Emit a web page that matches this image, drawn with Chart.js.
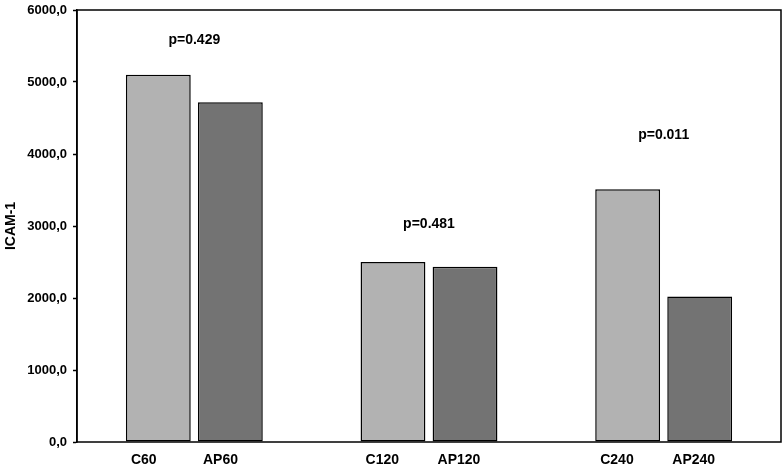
<!DOCTYPE html>
<html>
<head>
<meta charset="utf-8">
<script src="https://cdn.jsdelivr.net/npm/chart.js@4.4.0/dist/chart.umd.min.js"></script>
<style>
    html, body { margin: 0; padding: 0; background: #fff; }
    #wrap { width: 784px; height: 470px; }
</style>
</head>
<body>
<div id="wrap"><canvas id="chart"></canvas></div>
<script>
// Groups (time points) and the two bar series
const groups = ['60', '120', '240'];
const controlLabels = ['C60', 'C120', 'C240'];
const apLabels = ['AP60', 'AP120', 'AP240'];
const controlValues = [5100, 2500, 3510];
const apValues = [4720, 2435, 2020];

// p-value notes above each group, and the height they sit at (data units)
const pLabels = ['p=0.429', 'p=0.481', 'p=0.011'];
const pLabelY = [5580, 3030, 4260];

// Y axis ticks
const yTicks = [0, 1000, 2000, 3000, 4000, 5000, 6000];

const fontFamily = "'Liberation Sans', Arial, Helvetica, sans-serif";

// Frame around the plot area
const framePlugin = {
    id: 'frame',
    afterDatasetsDraw(chart) {
        const { ctx, chartArea } = chart;
        ctx.save();
        ctx.strokeStyle = '#000';
        ctx.lineWidth = 1.5;
        ctx.strokeRect(chartArea.left, chartArea.top,
            chartArea.right - chartArea.left, chartArea.bottom - chartArea.top);
        ctx.restore();
    }
};

// Labels under each bar and the p-values above each group
const labelsPlugin = {
    id: 'barLabels',
    afterDraw(chart) {
        const { ctx, chartArea } = chart;
        const xScale = chart.scales.x;
        const yScale = chart.scales.y;
        ctx.save();
        ctx.fillStyle = '#000';
        ctx.font = 'bold 14px ' + fontFamily;
        ctx.textBaseline = 'middle';
        ctx.textAlign = 'left';

        const seriesLabels = [controlLabels, apLabels];
        seriesLabels.forEach((labels, di) => {
            chart.getDatasetMeta(di).data.forEach((bar, i) => {
                ctx.fillText(labels[i], bar.x - bar.width / 2 + 5, chartArea.bottom + 18);
            });
        });

        ctx.textAlign = 'center';
        pLabels.forEach((txt, i) => {
            ctx.fillText(txt, xScale.getPixelForValue(i), yScale.getPixelForValue(pLabelY[i]));
        });
        ctx.restore();
    }
};

const ctx = document.getElementById('chart').getContext('2d');
new Chart(ctx, {
    type: 'bar',
    data: {
        labels: groups,
        datasets: [
            {
                label: 'C',
                data: controlValues,
                backgroundColor: '#b2b2b2',
                borderColor: '#000',
                borderWidth: 1.5,
                borderSkipped: false
            },
            {
                label: 'AP',
                data: apValues,
                backgroundColor: '#737373',
                borderColor: '#000',
                borderWidth: 1.5,
                borderSkipped: false
            }
        ]
    },
    options: {
        responsive: true,
        maintainAspectRatio: false,
        animation: false,
        datasets: {
            bar: {
                categoryPercentage: 0.614,
                barPercentage: 0.9
            }
        },
        layout: {
            padding: { top: 10, right: 3, left: 3, bottom: 0 }
        },
        plugins: {
            legend: { display: false },
            tooltip: { enabled: false }
        },
        scales: {
            x: {
                grid: { display: false },
                border: { display: false },
                ticks: { display: false },
                afterFit: function(scale) {
                    scale.height = 28;
                }
            },
            y: {
                min: 0,
                max: 6000,
                afterBuildTicks: function(scale) {
                    scale.ticks = yTicks.map(v => ({ value: v }));
                },
                grid: {
                    drawOnChartArea: false,
                    drawTicks: true,
                    tickLength: 4,
                    tickColor: '#000',
                    tickWidth: 1.5
                },
                border: { display: true, color: '#000', width: 1.5 },
                ticks: {
                    color: '#000',
                    padding: 6,
                    font: { family: fontFamily, size: 13, weight: 'bold' },
                    callback: function(value) {
                        return value.toFixed(1).replace('.', ',');
                    }
                },
                title: {
                    display: true,
                    text: 'ICAM-1',
                    color: '#000',
                    padding: { top: 0, bottom: 0 },
                    font: { family: fontFamily, size: 14, weight: 'bold' }
                },
                afterFit: function(scale) {
                    scale.width = 74;
                    scale.paddingTop = 0;
                    scale.paddingBottom = 0;
                }
            }
        }
    },
    plugins: [framePlugin, labelsPlugin]
});
</script>
</body>
</html>
